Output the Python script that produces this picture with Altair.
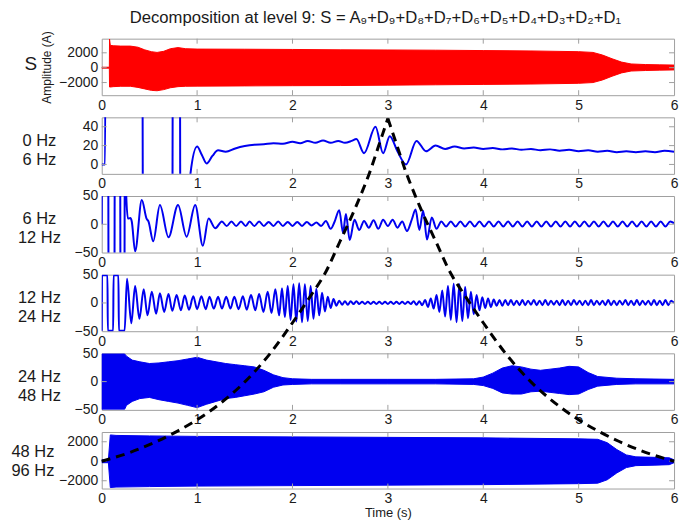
import altair as alt
import pandas as pd

TITLE = "Decomposition at level 9: S = A₉+D₉+D₈+D₇+D₆+D₅+D₄+D₃+D₂+D₁"
X_TICKS = [0, 1, 2, 3, 4, 5, 6]
Y_DOMAINS = [[-3700, 3900], [-10, 50], [-50, 50], [-50, 50], [-50, 50], [-2800, 3000]]
Y_TICKS = [[-2000, 0, 2000], [0, 20, 40], [-50, 0, 50], [-50, 0, 50], [-50, 0, 50], [-2000, 0, 2000]]
BAND_LABELS = [["S"], ["0 Hz", "6 Hz"], ["6 Hz", "12 Hz"], ["12 Hz", "24 Hz"], ["24 Hz", "48 Hz"], ["48 Hz", "96 Hz"]]

# Panel 1: signal S envelope (dense oscillation)
S_T = [0.00, 0.08, 0.082, 0.09, 0.12, 0.20, 0.30, 0.38, 0.45, 0.52, 0.58, 0.65, 0.72, 0.80, 0.88, 1.00, 1.50, 2.00,
       2.50, 3.00, 3.50, 4.00, 4.50, 5.00, 5.15, 5.25, 5.35, 5.45, 5.55, 5.70, 5.85, 6.00]
S_HI = [60, 60, 3850, 3000, 2950, 2900, 2900, 2750, 2400, 2150, 2050, 2200, 2550, 2700, 2550, 2500, 2480, 2450,
        2400, 2380, 2350, 2300, 2250, 2150, 2050, 1700, 1200, 750, 500, 420, 380, 350]
S_LO = [-60, -60, -2600, -2600, -2550, -2500, -2500, -2650, -2850, -3050, -3100, -2950, -2700, -2550, -2500, -2480,
        -2450, -2420, -2400, -2350, -2300, -2250, -2200, -2100, -2000, -1650, -1150, -700, -450, -380, -330, -300]

# Panel 2: 0-6 Hz band
P2 = [(0.00, 0), (0.035, 0), (0.045, 300), (0.42, 300), (0.44, -300), (0.735, -300), (0.75, 300), (0.815, 300),
      (0.83, -300), (0.90, -60), (0.93, -10), (1.00, 19), (1.05, 10), (1.10, 1), (1.16, 9), (1.22, 15), (1.30, 13.5),
      (1.40, 17), (1.50, 19.5), (1.60, 21), (1.70, 21.5), (1.80, 22.5), (1.90, 22), (2.00, 24), (2.08, 22.5),
      (2.16, 25), (2.24, 23), (2.32, 25.5), (2.40, 23), (2.48, 25), (2.55, 23), (2.62, 25), (2.67, 27), (2.75, 12),
      (2.87, 40), (2.95, 12), (3.02, 30), (3.10, 14), (3.19, 0), (3.30, 25), (3.40, 14), (3.50, 20), (3.60, 16.5),
      (3.70, 19), (3.80, 17), (3.90, 18), (4.00, 16.5), (4.10, 17.5), (4.20, 16), (4.30, 17), (4.40, 15.5),
      (4.50, 16.5), (4.60, 15), (4.70, 16), (4.80, 14.5), (4.90, 15.5), (5.00, 14), (5.10, 15), (5.20, 13.5),
      (5.30, 14.5), (5.40, 13), (5.50, 14), (5.60, 13), (5.70, 14), (5.80, 13), (5.90, 14.5), (6.00, 13.5)]

# Panel 3: 6-12 Hz band
P3 = [(0.00, 0), (0.01, 300), (0.065, 300), (0.075, -300), (0.13, -300), (0.14, 300), (0.19, 300), (0.20, -300),
      (0.235, -300), (0.245, 300), (0.255, 60), (0.275, 10), (0.30, 11), (0.315, 5), (0.35, -48), (0.42, 43),
      (0.47, 10), (0.49, 5), (0.54, -30), (0.61, 34), (0.70, -23), (0.80, 34), (0.89, -22), (0.98, 34), (1.06, -38),
      (1.12, 10), (1.19, -7), (1.26, 5), (1.31, -3), (1.36, 5), (1.41, -3), (1.46, 5), (1.51, -3), (1.55, 5),
      (1.60, -3), (1.65, 5), (1.70, -3), (1.75, 4), (1.80, -3), (1.85, 5), (1.90, -3), (1.95, 4), (2.00, -3),
      (2.05, 4), (2.10, -3), (2.15, 4), (2.20, -2), (2.25, 3), (2.30, -3), (2.35, 6), (2.40, -8), (2.44, 4),
      (2.49, 25), (2.53, -15), (2.56, 18), (2.60, -28), (2.65, 8), (2.70, -10), (2.75, 6), (2.80, -6), (2.85, 7),
      (2.90, -8), (2.95, 8), (3.00, -3), (3.05, 8), (3.10, -6), (3.15, 5), (3.20, -12), (3.25, 8), (3.29, 26),
      (3.33, -10), (3.37, 24), (3.41, -27), (3.46, 12), (3.51, -8), (3.56, 5), (3.61, -4), (3.66, 5), (3.71, -4),
      (3.76, 5), (3.81, -4), (3.86, 5), (3.91, -4), (3.96, 5), (4.01, -4), (4.06, 5), (4.11, -4), (4.16, 5),
      (4.21, -4), (4.26, 5), (4.31, -4), (4.36, 5), (4.41, -4), (4.46, 5), (4.51, -4), (4.56, 5), (4.61, -4),
      (4.66, 5), (4.71, -4), (4.76, 5), (4.81, -4), (4.86, 5), (4.91, -4), (4.96, 5), (5.01, -4), (5.06, 5),
      (5.11, -4), (5.16, 5), (5.21, -4), (5.26, 5), (5.31, -4), (5.36, 5), (5.41, -4), (5.46, 5), (5.51, -4),
      (5.56, 5), (5.61, -4), (5.66, 5), (5.71, -4), (5.76, 5), (5.81, -4), (5.86, 5), (5.91, -4), (5.96, 5),
      (6.00, 2)]

# Panel 4: 12-24 Hz band
P4 = [(0.00, -49), (0.003, 49), (0.06, 49), (0.064, -49), (0.12, -49), (0.124, 49), (0.175, 49), (0.18, -49),
      (0.24, -49), (0.265, 43), (0.31, -36), (0.35, 30), (0.395, -28), (0.44, 24), (0.48, -22), (0.525, 20),
      (0.57, -19), (0.61, 17), (0.655, -16), (0.70, 16), (0.74, -14), (0.785, 14), (0.83, -13), (0.87, 13),
      (0.915, -12), (0.96, 12), (1.00, -11), (1.045, 12), (1.09, -11), (1.13, 11), (1.175, -10), (1.22, 11),
      (1.26, -10), (1.305, 11), (1.35, -10), (1.39, 11), (1.435, -11), (1.48, 12), (1.52, -12), (1.565, 14),
      (1.61, -13), (1.65, 16), (1.695, -16), (1.74, 20), (1.78, -18), (1.82, 24), (1.86, -22), (1.89, 26),
      (1.92, -25), (1.95, 30), (1.98, -30), (2.01, 33), (2.04, -33), (2.07, 35), (2.10, -34), (2.13, 33),
      (2.16, -32), (2.19, 30), (2.22, -28), (2.25, 25), (2.28, -22), (2.31, 18), (2.34, -15), (2.37, 11),
      (2.40, -9), (2.43, 7), (2.46, -5), (2.49, 4), (2.52, -3), (2.55, 3), (2.58, -3), (2.61, 3), (2.64, -2),
      (2.67, 3), (2.70, -2), (2.73, 2), (2.76, -2), (2.79, 2), (2.82, -2), (2.85, 2), (2.88, -2), (2.91, 2),
      (2.94, -2), (2.97, 2), (3.00, -2), (3.03, 2), (3.06, -2), (3.09, 2), (3.12, -2), (3.15, 2), (3.18, -2),
      (3.21, 2), (3.24, -2), (3.27, 3), (3.30, -3), (3.33, 3), (3.36, -4), (3.39, 5), (3.42, -7), (3.45, 8),
      (3.48, -10), (3.51, 14), (3.54, -16), (3.57, 22), (3.60, -24), (3.63, 30), (3.66, -30), (3.69, 34),
      (3.72, -34), (3.75, 33), (3.78, -32), (3.81, 28), (3.84, -27), (3.87, 20), (3.90, -20), (3.93, 14),
      (3.96, -13), (3.99, 10), (4.02, -9), (4.05, 8), (4.08, -7), (4.11, 6), (4.14, -5), (4.17, 5), (4.20, -5),
      (4.23, 5), (4.26, -4), (4.29, 5), (4.32, -4), (4.35, 4), (4.38, -4), (4.41, 5), (4.44, -4), (4.47, 4),
      (4.50, -3), (4.53, 5), (4.56, -4), (4.59, 4), (4.62, -4), (4.65, 5), (4.68, -4), (4.71, 4), (4.74, -3),
      (4.77, 4), (4.80, -4), (4.83, 5), (4.86, -4), (4.89, 4), (4.92, -4), (4.95, 5), (4.98, -3), (5.01, 4),
      (5.04, -4), (5.07, 4), (5.10, -4), (5.13, 5), (5.16, -4), (5.19, 4), (5.22, -3), (5.25, 4), (5.28, -4),
      (5.31, 5), (5.34, -4), (5.37, 4), (5.40, -4), (5.43, 4), (5.46, -3), (5.49, 5), (5.52, -4), (5.55, 4),
      (5.58, -4), (5.61, 5), (5.64, -4), (5.67, 4), (5.70, -3), (5.73, 4), (5.76, -4), (5.79, 5), (5.82, -4),
      (5.85, 4), (5.88, -4), (5.91, 5), (5.94, -4), (5.97, 4), (6.00, 0)]

# Panel 5: 24-48 Hz band envelope
G_T = [0.00, 0.24, 0.26, 0.32, 0.40, 0.50, 0.60, 0.70, 0.80, 0.90, 1.00, 1.10, 1.20, 1.30, 1.40, 1.50, 1.60, 1.70,
       1.80, 1.90, 2.00, 2.20, 2.50, 3.00, 3.50, 3.90, 4.00, 4.10, 4.20, 4.30, 4.40, 4.50, 4.60, 4.70, 4.80, 4.90,
       5.00, 5.10, 5.20, 5.40, 5.60, 6.00]
G_HI = [49, 49, 45, 38, 35, 32, 33, 35, 37, 40, 43, 38, 35, 32, 30, 28, 26, 20, 12, 7, 5, 4, 4, 4, 4, 5, 8, 15, 24,
        28, 26, 22, 20, 22, 24, 27, 26, 16, 9, 6, 5, 4]
G_LO = [-49, -49, -42, -35, -30, -28, -32, -35, -38, -42, -46, -40, -35, -30, -28, -25, -22, -18, -10, -6, -5, -4,
        -4, -4, -4, -5, -7, -12, -20, -22, -22, -18, -17, -19, -21, -23, -22, -14, -8, -5, -4, -4]

# Panel 6: 48-96 Hz band envelope
B_T = [0.00, 0.07, 0.09, 0.15, 0.50, 1.00, 2.00, 3.00, 4.00, 5.00, 5.20, 5.30, 5.40, 5.50, 5.60, 5.80, 5.95, 6.00]
B_HI = [150, 150, 2700, 2650, 2600, 2550, 2500, 2450, 2400, 2300, 2250, 1900, 1200, 650, 450, 400, 350, 150]
B_LO = [-150, -150, -2700, -2650, -2600, -2550, -2500, -2450, -2400, -2300, -2250, -1900, -1200, -650, -450, -400,
        -350, -150]

# Dashed overlay curve, read as (time, panel it sits in, value in that panel's units)
CURVE_T = [0.00, 0.30, 0.58, 0.80, 1.00, 1.25, 1.50, 1.75, 2.00, 2.20, 2.34, 2.50, 2.65, 2.72, 2.81, 2.90, 3.00,
           3.10, 3.19, 3.28, 3.35, 3.50, 3.66, 3.80, 4.00, 4.25, 4.50, 4.75, 5.00, 5.20, 5.42, 5.70, 6.00]
CURVE_PANEL = [6, 6, 6, 6, 5, 5, 5, 5, 4, 4, 4, 3, 3, 3, 2, 2, 2, 2, 2, 3, 3, 3, 4, 4, 4, 5, 5, 5, 5, 6, 6, 6, 6]
CURVE_VAL = [0, 920, 2050, 3120, -67, -37, 0, 47, -34, 16, 53, -28, 27, 55, -7, 20, 50, 20, -7, 55, 27, -28, 53,
             16, -34, 47, 0, -37, -67, 3120, 2050, 920, 0]

# ---------------- layout / style ----------------
W = 574
H = 56.7
GAP = 21.9
PITCH = H + GAP
FONT = "Liberation Sans"
FRAME = "#a0a0a0"
TXT = "#1a1a1a"
BLUE = "#0000f0"
RED = "#ff0000"


def to_global(panel, v):
    lo, hi = Y_DOMAINS[panel - 1]
    return (panel - 1) * PITCH + (hi - v) / (hi - lo) * H


def to_last_panel(y):
    lo, hi = Y_DOMAINS[5]
    return hi - (y - 5 * PITCH) / H * (hi - lo)


curve_rows = []
for t, p, v in zip(CURVE_T, CURVE_PANEL, CURVE_VAL):
    v6 = to_last_panel(to_global(p, v))
    if t <= 3.0:
        curve_rows.append({"t": t, "v": v6, "side": "rise"})
    if t >= 3.0:
        curve_rows.append({"t": t, "v": v6, "side": "fall"})
curve_df = pd.DataFrame(curve_rows)

panels = []
for k in range(6):
    last = k == 5
    x_axis = alt.Axis(values=X_TICKS, format="d", labelFlush=False, labelPadding=3,
                      title="Time (s)" if last else None, titleFontSize=13, titlePadding=1)
    if k == 0:
        y_axis = alt.Axis(values=Y_TICKS[k], format="d", labelFlush=False, labelPadding=4, title="Amplitude (A)",
                          titleAngle=270, titleFontSize=12, titleAlign="center", titleBaseline="middle",
                          titleX=-55, titleY=H / 2)
    else:
        y_axis = alt.Axis(values=Y_TICKS[k], format="d", labelFlush=False, labelPadding=4, title=BAND_LABELS[k],
                          titleAngle=0, titleFontSize=16.5, titleAlign="center", titleBaseline="middle",
                          titleLineHeight=19, titleX=-63 if k < 5 else -69.5,
                          titleY=23 if k < 5 else 20)

    def xenc(field):
        return alt.X(field, scale=alt.Scale(domain=[0, 6], nice=False, zero=False), axis=x_axis)

    def yenc(field):
        return alt.Y(field, scale=alt.Scale(domain=Y_DOMAINS[k], nice=False, zero=False), axis=y_axis)

    if k in (0, 4, 5):
        tt, hh, ll = {0: (S_T, S_HI, S_LO), 4: (G_T, G_HI, G_LO), 5: (B_T, B_HI, B_LO)}[k]
        col = RED if k == 0 else BLUE
        df = pd.DataFrame({"t": tt, "hi": hh, "lo": ll})
        sig = alt.Chart(df).mark_area(color=col, stroke=col, strokeWidth=1, clip=True).encode(
            x=xenc("t:Q"), y=yenc("hi:Q"), y2="lo:Q")
    else:
        pts = {1: P2, 2: P3, 3: P4}[k]
        df = pd.DataFrame(pts, columns=["t", "v"])
        sig = alt.Chart(df).mark_line(color=BLUE, strokeWidth=2, clip=True, interpolate="monotone").encode(
            x=xenc("t:Q"), y=yenc("v:Q"), order="t:Q")

    xt = pd.DataFrame({"v": X_TICKS[1:-1]})
    lo, hi = Y_DOMAINS[k]
    yt = pd.DataFrame({"v": [v for v in Y_TICKS[k] if lo < v < hi]})
    tick_top = alt.Chart(xt).mark_rule(color=FRAME, strokeWidth=1).encode(
        x=xenc("v:Q"), y=alt.value(0), y2=alt.value(5))
    tick_bot = alt.Chart(xt).mark_rule(color=FRAME, strokeWidth=1).encode(
        x=xenc("v:Q"), y=alt.value(H), y2=alt.value(H - 5))
    tick_l = alt.Chart(yt).mark_rule(color=FRAME, strokeWidth=1).encode(
        y=yenc("v:Q"), x=alt.value(0), x2=alt.value(5))
    tick_r = alt.Chart(yt).mark_rule(color=FRAME, strokeWidth=1).encode(
        y=yenc("v:Q"), x=alt.value(W), x2=alt.value(W - 5))

    layers = [sig, tick_top, tick_bot, tick_l, tick_r]
    if k == 0:
        s_txt = alt.Chart(pd.DataFrame({"lab": BAND_LABELS[0]})).mark_text(
            font=FONT, fontSize=19, color=TXT, align="center", baseline="middle").encode(
            text="lab:N", x=alt.value(-71), y=alt.value(25))
        layers.append(s_txt)
    if last:
        curve = alt.Chart(curve_df).mark_line(color="black", strokeWidth=3, strokeDash=[9, 6],
                                              interpolate="monotone", clip=False).encode(
            x=xenc("t:Q"), y=yenc("v:Q"), detail="side:N", order="t:Q")
        layers.append(curve)
    panels.append(alt.layer(*layers).properties(width=W, height=H))

chart = alt.vconcat(*panels, spacing=GAP, bounds="flush").properties(
    title=alt.TitleParams(text=TITLE, fontSize=16.7, font=FONT, fontWeight="normal", color=TXT,
                          anchor="middle", offset=4, dx=30),
    padding={"top": 0, "bottom": 2, "left": 2, "right": 5}
).configure_view(stroke=FRAME, strokeWidth=1).configure_axis(
    labelFont=FONT, labelFontSize=14, labelColor=TXT, titleFont=FONT, titleColor=TXT,
    titleFontWeight="normal", ticks=False, domain=False, grid=False
)

chart.save("out.html", embed_options={"renderer": "svg", "actions": False})
